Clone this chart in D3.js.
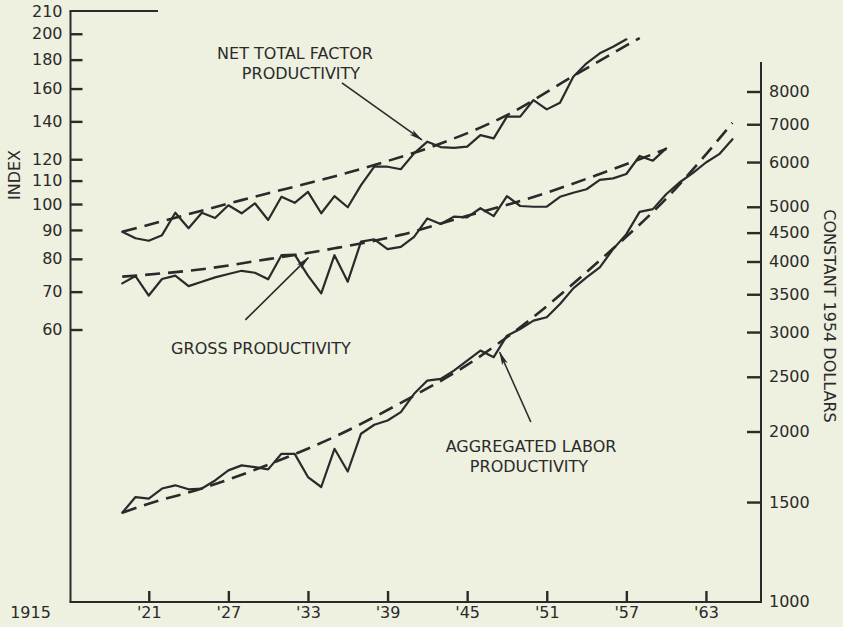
<!DOCTYPE html>
<html><head><meta charset="utf-8">
<script src="https://cdn.jsdelivr.net/npm/d3@7"></script>
<style>
html,body{margin:0;padding:0;background:#eef0e0;}
svg{display:block;}
text{font-family:"DejaVu Sans",sans-serif;fill:#2a2a2a;}
</style></head><body>
<svg id="chart" width="843" height="627"></svg>
<script>
// ---------------- data ----------------
const tfpYears = [1919,1920,1921,1922,1923,1924,1925,1926,1927,1928,1929,1930,1931,1932,1933,1934,1935,1936,1937,1938,1939,1940,1941,1942,1943,1944,1945,1946,1947,1948,1949,1950,1951,1952,1953,1954,1955,1956,1957];
const tfpActual = [89.3,87.0,86.1,88.1,96.5,90.6,96.5,94.5,99.5,96.3,100.3,93.7,103.0,100.5,105.1,96.3,103.3,98.7,108.0,116.4,116.4,115.2,122.9,128.9,126.1,125.7,126.3,132.4,130.6,142.7,142.7,152.7,147.0,151.0,167.9,177.3,184.7,189.7,195.5];
const tfpTrendYears = [1919,1928,1938,1943,1948,1953,1958];
const tfpTrend = [89.3,101.6,117.2,127.9,143.6,168.4,196.6];

const grossYears = [1919,1920,1921,1922,1923,1924,1925,1926,1927,1928,1929,1930,1931,1932,1933,1934,1935,1936,1937,1938,1939,1940,1941,1942,1943,1944,1945,1946,1947,1948,1949,1950,1951,1952,1953,1954,1955,1956,1957,1958,1959,1960];
const grossActual = [72.4,74.6,68.9,73.7,74.7,71.6,72.9,74.2,75.2,76.2,75.6,73.6,81.2,81.4,74.7,69.5,81.2,72.9,85.8,86.6,83.2,84.0,87.5,94.3,92.2,95.0,94.7,98.3,95.2,103.3,99.2,98.9,98.9,103.0,104.7,106.2,110.3,111.0,113.0,121.6,119.3,125.4];
const grossTrendYears = [1919,1925,1930,1935,1940,1945,1950,1955,1960];
const grossTrend = [74.4,76.7,79.9,83.5,88.2,95.3,102.9,113.0,125.1];

const laborYears = [1919,1920,1921,1922,1923,1924,1925,1926,1927,1928,1929,1930,1931,1932,1933,1934,1935,1936,1937,1938,1939,1940,1941,1942,1943,1944,1945,1946,1947,1948,1949,1950,1951,1952,1953,1954,1955,1956,1957,1958,1959,1960,1961,1962,1963,1964,1965];
const laborActual = [1436,1531,1521,1585,1606,1580,1585,1638,1707,1742,1730,1714,1826,1826,1661,1595,1864,1699,1982,2056,2092,2164,2332,2462,2479,2564,2671,2782,2708,2956,3038,3143,3187,3364,3585,3750,3906,4207,4472,4898,4952,5263,5520,5733,5989,6196,6586];
const laborTrendYears = [1919,1921,1925,1930,1935,1940,1945,1950,1955,1960,1965];
const laborTrend = [1436,1490,1585,1747,1957,2248,2624,3191,4020,5167,7040];

const leftTicks = [60,70,80,90,100,110,120,140,160,180,200];
const leftTopLabel = "210";
const rightTicks = [1000,1500,2000,2500,3000,3500,4000,4500,5000,6000,7000,8000];
const xTicks = [1915,1921,1927,1933,1939,1945,1951,1957,1963];
const xTickLabels = ["1915","'21","'27","'33","'39","'45","'51","'57","'63"];

// ---------------- layout ----------------
const W = 843, H = 627;
const INK = "#2a2a2a";
const svg = d3.select("#chart");
svg.append("rect").attr("width", W).attr("height", H).attr("fill", "#eef0e0");

const x = d3.scaleLinear().domain([1915.1, 1967.15]).range([70.5, 761]);
const yL = d3.scaleLog().domain([19.79, 219.4]).range([602, 11]);
const yR = d3.scaleLog().domain([998, 11108]).range([602, 11]);

// frame lines
const frame = svg.append("g").attr("stroke", INK).attr("stroke-width", 2).attr("fill", "none");
frame.append("line").attr("x1", x.range()[0]).attr("x2", x.range()[0]).attr("y1", 11).attr("y2", 602);
frame.append("line").attr("x1", x.range()[0] - 1).attr("x2", x.range()[1] + 1).attr("y1", 602).attr("y2", 602);
frame.append("line").attr("x1", x.range()[1]).attr("x2", x.range()[1]).attr("y1", 62).attr("y2", 602);
frame.append("line").attr("x1", x.range()[0] - 1).attr("x2", 158).attr("y1", 11).attr("y2", 11);

// axes
function styleAxis(g) {
  g.select(".domain").remove();
  g.selectAll(".tick line").attr("stroke", INK).attr("stroke-width", 2.4);
  g.selectAll(".tick text").attr("fill", INK).style("font-size", "16px").style("font-family", "'DejaVu Sans',sans-serif");
}
svg.append("g").attr("transform", `translate(${x.range()[0]},0)`)
  .call(d3.axisLeft(yL).tickValues(leftTicks).tickFormat(d3.format("d")).tickSizeInner(-12).tickSizeOuter(0).tickPadding(8))
  .call(styleAxis);
svg.append("text").attr("x", x.range()[0] - 8).attr("y", yL.range()[1]).attr("dy", "0.35em")
  .attr("text-anchor", "end").style("font-size", "16px").text(leftTopLabel);

svg.append("g").attr("transform", `translate(${x.range()[1]},0)`)
  .call(d3.axisRight(yR).tickValues(rightTicks).tickFormat(d3.format("d")).tickSizeInner(-14).tickSizeOuter(0).tickPadding(8))
  .call(styleAxis)
  .call(g => g.selectAll(".tick").filter(d => d === 1000).select("line").remove());

const xa = svg.append("g").attr("transform", "translate(0,602)")
  .call(d3.axisBottom(x).tickValues(xTicks).tickFormat((d, i) => xTickLabels[i]).tickSizeInner(-11).tickSizeOuter(0).tickPadding(5))
  .call(styleAxis);
xa.selectAll(".tick").filter(d => d === 1915).select("line").remove();
xa.selectAll(".tick").filter(d => d === 1915).select("text").attr("x", 30 - x(1915));

// axis titles
svg.append("text").attr("transform", "translate(14,175) rotate(-90)")
  .attr("text-anchor", "middle").attr("dominant-baseline", "central").style("font-size", "16px").text("INDEX");
svg.append("text").attr("transform", "translate(829,316) rotate(90)")
  .attr("text-anchor", "middle").attr("dominant-baseline", "central").style("font-size", "16px").text("CONSTANT 1954 DOLLARS");

// series
const solid = (ys, vs, yScale) => d3.line().x((d, i) => x(ys[i])).y(d => yScale(d)).curve(d3.curveLinear)(vs);
const dashed = (ys, vs, yScale) => d3.line().x((d, i) => x(ys[i])).y(d => yScale(d)).curve(d3.curveMonotoneX)(vs);

const series = [
  {yrs: tfpYears, vals: tfpActual, tYrs: tfpTrendYears, tVals: tfpTrend, scale: yL},
  {yrs: grossYears, vals: grossActual, tYrs: grossTrendYears, tVals: grossTrend, scale: yL},
  {yrs: laborYears, vals: laborActual, tYrs: laborTrendYears, tVals: laborTrend, scale: yR}
];
const gS = svg.append("g").attr("fill", "none").attr("stroke", INK).attr("stroke-linejoin", "round").attr("stroke-linecap", "round");
series.forEach(s => {
  gS.append("path").attr("d", dashed(s.tYrs, s.tVals, s.scale)).attr("stroke-width", 2.6).attr("stroke-dasharray", "15,8").attr("stroke-linecap", "butt");
  gS.append("path").attr("d", solid(s.yrs, s.vals, s.scale)).attr("stroke-width", 2.2);
});

// annotations
const defs = svg.append("defs");
defs.append("marker").attr("id", "arrow").attr("viewBox", "0 0 14 8").attr("refX", 13).attr("refY", 4)
  .attr("markerWidth", 14).attr("markerHeight", 8).attr("markerUnits", "userSpaceOnUse").attr("orient", "auto")
  .append("path").attr("d", "M0,1 L14,4 L0,7 L3,4 Z").attr("fill", INK);

const annotations = [
  {lines: ["NET TOTAL FACTOR", "PRODUCTIVITY"], cx: [295, 301], y: [59, 78.5], from: [1935.56, 163.8], to: [1941.59, 129.8], scale: yL},
  {lines: ["GROSS PRODUCTIVITY"], cx: [261], y: [354], from: [1928.28, 62.4], to: [1933.03, 80.4], scale: yL},
  {lines: ["AGGREGATED LABOR", "PRODUCTIVITY"], cx: [531, 529], y: [452, 471.5], from: [1949.8, 2079], to: [1947.45, 2763], scale: yR}
];
annotations.forEach(a => {
  a.lines.forEach((t, i) => {
    svg.append("text").attr("x", a.cx[i]).attr("y", a.y[i]).attr("text-anchor", "middle").style("font-size", "16px").text(t);
  });
  svg.append("line").attr("x1", x(a.from[0])).attr("y1", a.scale(a.from[1]))
    .attr("x2", x(a.to[0])).attr("y2", a.scale(a.to[1]))
    .attr("stroke", INK).attr("stroke-width", 1.6).attr("marker-end", "url(#arrow)");
});
</script>
</body></html>
